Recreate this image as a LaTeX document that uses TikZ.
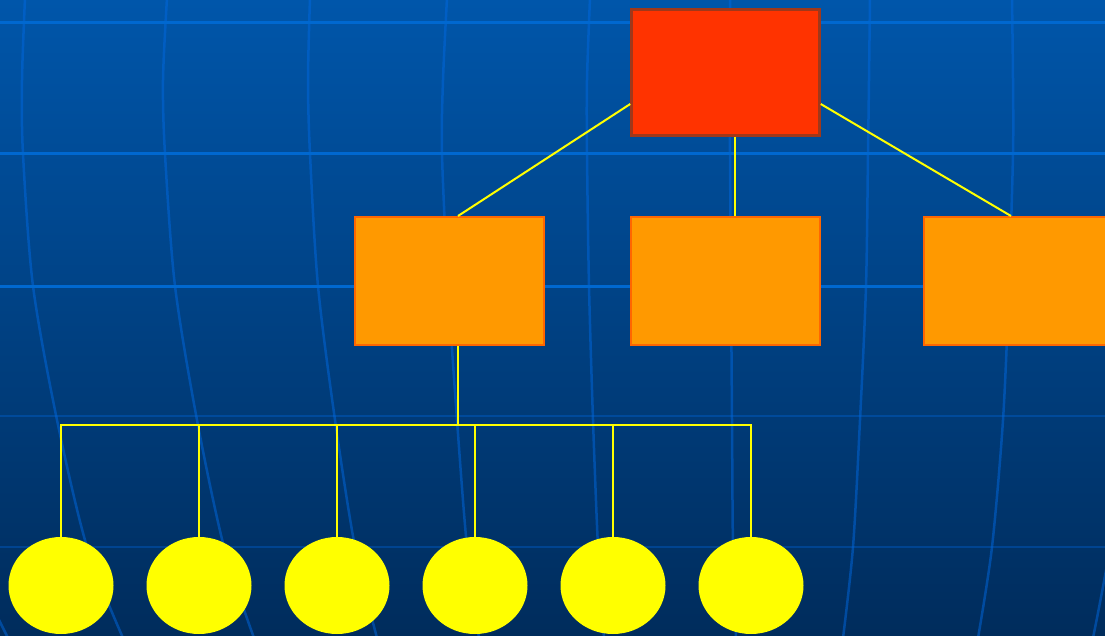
\documentclass[tikz,border=0pt]{standalone}
\usetikzlibrary{shapes.geometric,calc}
\definecolor{bgtop}{RGB}{0,86,170}
\definecolor{bgbot}{RGB}{0,44,92}
\definecolor{gridfaint}{RGB}{0,104,224}
\definecolor{gridbright}{RGB}{0,104,208}
\definecolor{redfill}{RGB}{255,51,0}
\definecolor{redline}{RGB}{160,56,26}
\definecolor{orfill}{RGB}{255,153,0}
\definecolor{orline}{RGB}{255,102,0}
\definecolor{yel}{RGB}{255,255,0}
\begin{document}
\begin{tikzpicture}[x=1pt,y=-1pt,
  faint/.style={draw=gridfaint, draw opacity=0.5, line width=2.5pt},
  fainth/.style={draw=gridfaint, draw opacity=0.35, line width=2.5pt},
  bright/.style={draw=gridbright, line width=3pt},
  topbox/.style={rectangle, fill=redfill, draw=redline, line width=2.5pt,
    minimum width=188pt, minimum height=126pt, inner sep=0pt},
  midbox/.style={rectangle, fill=orfill, draw=orline, line width=2pt,
    minimum width=189pt, minimum height=128pt, inner sep=0pt},
  leaf/.style={ellipse, fill=yel, draw=none, minimum width=105pt,
    minimum height=97pt, inner sep=0pt},
  conn/.style={draw=yel, line width=2pt}]
\useasboundingbox (0,0) rectangle (1105,636);
\clip (0,0) rectangle (1105,636);
% background
\fill[top color=bgtop, bottom color=bgbot] (0,0) rectangle (1105,636);
% curved vertical grid lines
\foreach \a/\b/\c/\d/\e/\f/\g in {
  -140/-143/-142/-120/-80/-35/8,
  25/22/23/33/57/87/123,
  167/163/165/175/197/224/254,
  310/308/310/318/335/355/377,
  447/443/442/448/457/467/479,
  590/587/587/589/593/598/604,
  730/730/730/731/732/733/736,
  870/869/868/866/860/853/843,
  1012/1013/1013/1009/1003/992/978,
  1150/1151/1150/1140/1127/1110/1093}
  \draw[faint] plot[smooth] coordinates {(\a,-2) (\b,80) (\c,154) (\d,286) (\e,420) (\f,547) (\g,638)};
% horizontal grid lines
\draw[fainth] (0,416) -- (1105,416);
\draw[fainth] (0,547) -- (1105,547);
\foreach \y in {23,154,286}
  \draw[bright] (0,\y) -- (1105,\y);
% nodes
\node[topbox] (top) at (725.5,72.5) {};
\node[midbox] (b1) at (449.5,281) {};
\node[midbox] (b2) at (725.5,281) {};
\node[midbox] (b3) at (1018.5,281) {};
\foreach \i/\x in {1/61,2/199,3/337,4/475,5/613,6/751}
  \node[leaf] (e\i) at (\x,585.5) {};
% connectors
\coordinate (bus) at (458,425);
\draw[conn] ($(top.west)+(0,31.5)$) -- ($(b1.north)+(8.5,0)$);
\draw[conn] ($(top.south)+(9.5,0)$) -- ($(b2.north)+(9.5,0)$);
\draw[conn] ($(top.east)+(0,31.5)$) -- ($(b3.north)+(-7.5,0)$);
\draw[conn] ($(b1.south)+(8.5,0)$) -- (bus);
\draw[conn] (e1.north) -- (e1.north |- bus) -- (e6.north |- bus) -- (e6.north);
\foreach \i in {2,3,4,5}
  \draw[conn] (e\i.north) -- (e\i.north |- bus);
\end{tikzpicture}
\end{document}
